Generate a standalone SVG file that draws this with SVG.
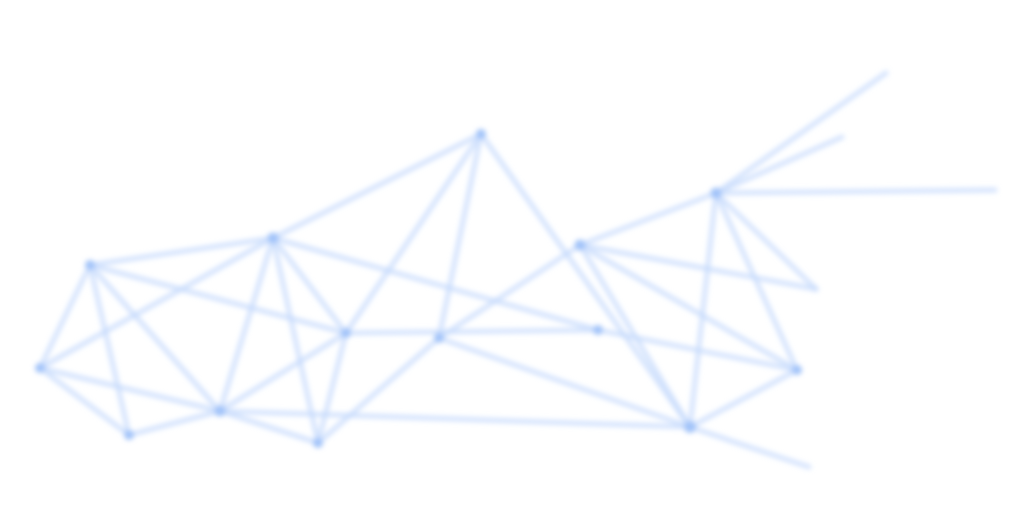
<svg xmlns="http://www.w3.org/2000/svg" width="1033" height="506" viewBox="0 0 1033 506">
<defs>
<filter id="blur" x="-10%" y="-10%" width="120%" height="120%"><feGaussianBlur stdDeviation="2.8"/></filter>
<style>
.e line{stroke:#c4d9fc;stroke-width:5;stroke-linecap:round;opacity:0.72}
.n circle{fill:#a3c4f9}
</style>
</defs>
<rect width="1033" height="506" fill="#ffffff"/>
<g filter="url(#blur)">
<g id="connectors" class="e">
<line x1="90" y1="265" x2="273" y2="238"/>
<line x1="90" y1="265" x2="40" y2="368"/>
<line x1="90" y1="265" x2="129" y2="435"/>
<line x1="90" y1="265" x2="220" y2="411"/>
<line x1="90" y1="265" x2="346" y2="333"/>
<line x1="40" y1="368" x2="273" y2="238"/>
<line x1="40" y1="368" x2="220" y2="411"/>
<line x1="40" y1="368" x2="129" y2="435"/>
<line x1="129" y1="435" x2="220" y2="411"/>
<line x1="273" y1="238" x2="481" y2="134"/>
<line x1="273" y1="238" x2="220" y2="411"/>
<line x1="273" y1="238" x2="318" y2="443"/>
<line x1="273" y1="238" x2="346" y2="333"/>
<line x1="273" y1="238" x2="598" y2="330"/>
<line x1="481" y1="134" x2="346" y2="333"/>
<line x1="481" y1="134" x2="439" y2="338"/>
<line x1="481" y1="134" x2="690" y2="427"/>
<line x1="220" y1="411" x2="346" y2="333"/>
<line x1="220" y1="411" x2="318" y2="443"/>
<line x1="220" y1="411" x2="690" y2="427"/>
<line x1="318" y1="443" x2="346" y2="333"/>
<line x1="318" y1="443" x2="439" y2="338"/>
<line x1="346" y1="333" x2="598" y2="330"/>
<line x1="439" y1="338" x2="580" y2="245"/>
<line x1="439" y1="338" x2="690" y2="427"/>
<line x1="580" y1="245" x2="716" y2="193"/>
<line x1="580" y1="245" x2="690" y2="427"/>
<line x1="580" y1="245" x2="797" y2="370"/>
<line x1="580" y1="245" x2="816" y2="289"/>
<line x1="598" y1="330" x2="797" y2="370"/>
<line x1="716" y1="193" x2="690" y2="427"/>
<line x1="716" y1="193" x2="797" y2="370"/>
<line x1="716" y1="193" x2="816" y2="289"/>
<line x1="716" y1="193" x2="886" y2="73"/>
<line x1="716" y1="193" x2="842" y2="137"/>
<line x1="716" y1="193" x2="995" y2="190"/>
<line x1="690" y1="427" x2="797" y2="370"/>
<line x1="690" y1="427" x2="809" y2="467"/>
</g>
<g class="n">
<g id="nA"><circle cx="90" cy="265" r="5"/></g>
<g id="nB"><circle cx="273" cy="238" r="5.5"/></g>
<g id="nC"><circle cx="481" cy="134" r="5"/></g>
<g id="nD"><circle cx="40" cy="368" r="5"/></g>
<g id="nE"><circle cx="129" cy="435" r="5"/></g>
<g id="nF"><circle cx="220" cy="411" r="5.5"/></g>
<g id="nG"><circle cx="318" cy="443" r="5"/></g>
<g id="nH"><circle cx="346" cy="333" r="5"/></g>
<g id="nI"><circle cx="439" cy="338" r="5"/></g>
<g id="nJ"><circle cx="580" cy="245" r="5.5"/></g>
<g id="nK"><circle cx="598" cy="330" r="5"/></g>
<g id="nL"><circle cx="716" cy="193" r="5.5"/></g>
<g id="nM"><circle cx="690" cy="427" r="6"/></g>
<g id="nN"><circle cx="797" cy="370" r="5"/></g>
</g>
</g>
</svg>
